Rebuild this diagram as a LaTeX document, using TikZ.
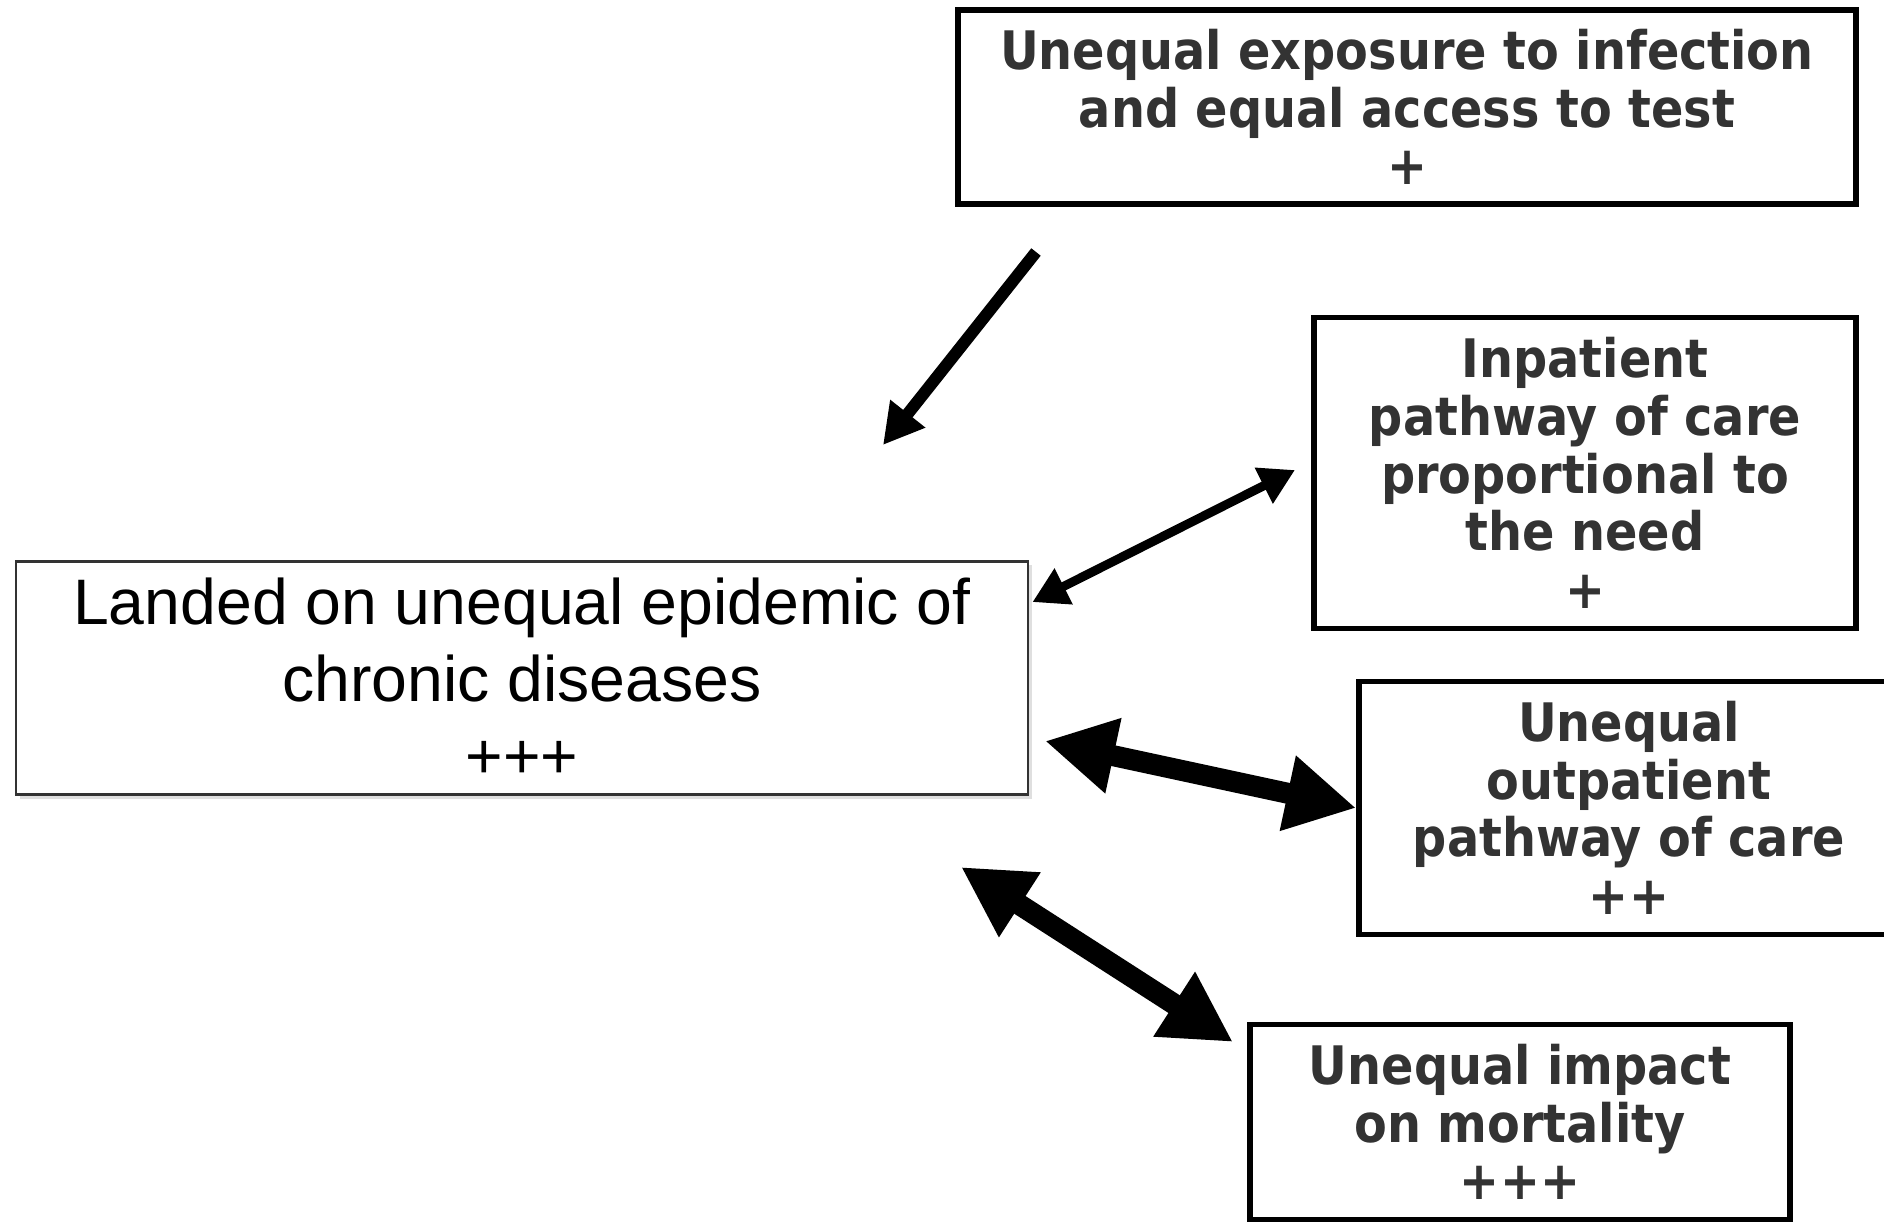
\documentclass[tikz,border=0pt]{standalone}
\usepackage{fontspec}
\setmainfont{Liberation Sans}
\newfontfamily\boxfont{DejaVu Sans Condensed}[BoldFont={DejaVu Sans Condensed Bold}]
\usetikzlibrary{arrows.meta,shadows,calc}
\definecolor{boxtext}{HTML}{333333}
\tikzstyle{effect} = [draw=black, line width=1.6pt, fill=white, align=center, text=boxtext, inner sep=0pt, font=\boxfont\bfseries\fontsize{15.1}{16.4}\selectfont]
\tikzstyle{chronicbox} = [draw=black!80, line width=0.8pt, fill=white, align=center, inner sep=0pt, font=\fontsize{18.3}{21.9}\selectfont, drop shadow={shadow xshift=0.04cm, shadow yshift=-0.04cm, opacity=0.25}]
\tikzstyle{link} = [line width=0.12cm, -{Triangle[length=4mm,width=4.2mm]}]
\tikzstyle{thinlink} = [line width=0.09cm, {Triangle[length=3.5mm,width=3.8mm]}-{Triangle[length=3.5mm,width=3.8mm]}]
\tikzstyle{boldlink} = [line width=0.21cm, {Triangle[length=7mm,width=7.2mm]}-{Triangle[length=7mm,width=7.2mm]}]

\begin{document}
\begin{tikzpicture}
\useasboundingbox (0,0) rectangle (18.84,12.23);
% boxes
\node[effect, minimum width=8.98cm, minimum height=1.94cm] (exposure) at (14.07,11.16) {Unequal exposure to infection\\and equal access to test\\+};
\node[effect, minimum width=5.42cm, minimum height=3.11cm] (inpatient) at (15.85,7.50) {Inpatient\\pathway of care\\proportional to\\the need\\+};
\node[effect, minimum width=5.40cm, minimum height=2.53cm] (outpatient) at (16.29,4.15) {Unequal\\outpatient\\pathway of care\\++};
\node[effect, minimum width=5.40cm, minimum height=1.95cm] (mortality) at (15.20,1.01) {Unequal impact\\on mortality\\+++};
\node[chronicbox, minimum width=10.12cm, minimum height=2.33cm] (chronic) at (5.22,5.45) {Landed on unequal epidemic of\\chronic diseases\\+++};
% arrows
\coordinate (exptail) at (10.36,9.71);
\coordinate (exptip) at (8.83,7.78);
\coordinate (inpend) at (12.95,7.53);
\coordinate (outend) at (10.45,4.82);
\coordinate (mortend) at (9.61,3.56);
\coordinate (mortstart) at (12.33,1.81);
\draw[link] (exptail) -- (exptip);
\draw[thinlink] ($(chronic.north east)+(0.03,-0.42)$) -- (inpend);
\draw[boldlink] (outend) -- (outpatient.west);
\draw[boldlink] (mortend) -- (mortstart);
\end{tikzpicture}
\end{document}
